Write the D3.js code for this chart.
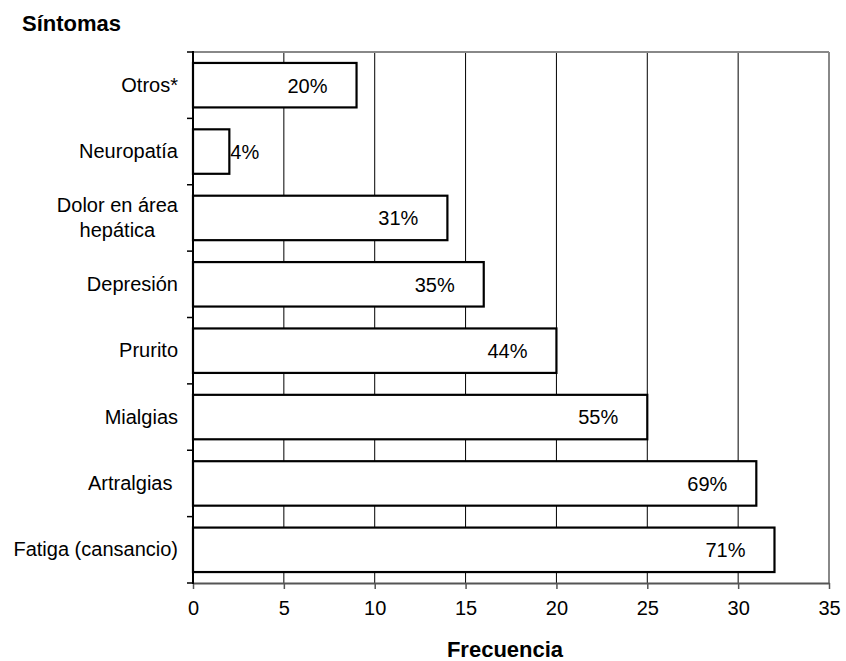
<!DOCTYPE html>
<html>
<head>
<meta charset="utf-8">
<script src="https://cdn.jsdelivr.net/npm/d3@7"></script>
<style>
  html, body { margin: 0; padding: 0; background: #fff; }
  svg { display: block; font-family: "Liberation Sans", Arial, sans-serif; }
  .cat { white-space: pre; }
</style>
</head>
<body>
<svg id="chart" width="846" height="661"></svg>
<script>
const categories = ["Otros*", "Neuropatía", "Dolor en área\nhepática", "Depresión", "Prurito", "Mialgias", "Artralgias ", "Fatiga (cansancio)"];
const frequencies = [9, 2, 14, 16, 20, 25, 31, 32];
const percentLabels = ["20%", "4%", "31%", "35%", "44%", "55%", "69%", "71%"];
const xTicks = [0, 5, 10, 15, 20, 25, 30, 35];
const yTitle = "Síntomas";
const xTitle = "Frecuencia";

const svg = d3.select("#chart");
const L = 193, R = 829, T = 52, B = 583;

const x = d3.scaleLinear().domain([0, 35]).range([L, R]);
const y = d3.scaleBand().domain(categories).range([T, B]).paddingInner(0.33).paddingOuter(0.165);

// vertical gridlines
svg.append("g").selectAll("line").data(xTicks.filter(d => d > 0 && d < 35)).join("line")
  .attr("x1", d => x(d)).attr("x2", d => x(d))
  .attr("y1", T).attr("y2", B)
  .attr("stroke", "#000").attr("stroke-width", 1);

// top and right border (gray)
svg.append("line").attr("x1", L).attr("x2", R).attr("y1", T).attr("y2", T)
  .attr("stroke", "#888").attr("stroke-width", 2);
svg.append("line").attr("x1", R).attr("x2", R).attr("y1", T).attr("y2", B)
  .attr("stroke", "#888").attr("stroke-width", 2);

// bars
const data = categories.map((c, i) => ({c, v: frequencies[i], p: percentLabels[i]}));
svg.append("g").selectAll("rect").data(data).join("rect")
  .attr("x", x(0)).attr("y", d => y(d.c))
  .attr("width", d => x(d.v) - x(0)).attr("height", y.bandwidth())
  .attr("fill", "#fff").attr("stroke", "#000").attr("stroke-width", 2.2);

// value labels
svg.append("g").selectAll("text").data(data).join("text")
  .attr("x", d => (x(d.v) - x(0) < 60) ? x(d.v) + 1 : x(d.v) - 29)
  .attr("y", d => y(d.c) + y.bandwidth() / 2)
  .attr("dy", "0.37em")
  .attr("text-anchor", d => (x(d.v) - x(0) < 60) ? "start" : "end")
  .attr("font-size", 20).attr("fill", "#000")
  .text(d => d.p);

// x axis
const xAxis = d3.axisBottom(x).tickValues(xTicks).tickSize(6).tickPadding(12).tickSizeOuter(0);
const gx = svg.append("g").attr("transform", `translate(0,${B})`).call(xAxis);
gx.select(".domain").attr("stroke", "#555").attr("stroke-width", 2);
gx.selectAll(".tick line").attr("stroke", "#555").attr("stroke-width", 1.5);
gx.selectAll(".tick text").attr("font-size", 20).attr("fill", "#000")
  .attr("font-family", "Liberation Sans, Arial, sans-serif");

// y axis: ticks at band boundaries
const bounds = d3.range(categories.length + 1).map(i => T + i * (B - T) / categories.length);
svg.append("line").attr("x1", L).attr("x2", L).attr("y1", T - 1).attr("y2", B + 1)
  .attr("stroke", "#000").attr("stroke-width", 2);
svg.append("g").selectAll("line").data(bounds).join("line")
  .attr("x1", L - 6).attr("x2", L).attr("y1", d => d).attr("y2", d => d)
  .attr("stroke", "#000").attr("stroke-width", 1.5);

// category labels
const lab = svg.append("g").selectAll("text").data(categories).join("text")
  .attr("class", "cat")
  .attr("font-size", 20).attr("fill", "#000")
  .attr("transform", d => {
    const lines = d.split("\n");
    return `translate(0,${y(d) + y.bandwidth() / 2 - (lines.length - 1) * 12.5})`;
  });
lab.each(function(d) {
  const lines = d.split("\n");
  const t = d3.select(this);
  if (lines.length === 1) {
    t.append("tspan").attr("x", 178).attr("y", 0).attr("dy", "0.33em").attr("text-anchor", "end").text(lines[0]);
  } else {
    const widths = lines.map(s => {
      const tmp = svg.append("text").attr("font-size", 20).text(s);
      const w = tmp.node().getComputedTextLength(); tmp.remove(); return w;
    });
    const maxW = d3.max(widths);
    const cx = 178 - maxW / 2;
    lines.forEach((s, i) => {
      t.append("tspan").attr("x", cx).attr("y", i * 25).attr("dy", "0.33em")
        .attr("text-anchor", "middle").text(s);
    });
  }
});

// titles
svg.append("text").attr("x", 22).attr("y", 31).attr("font-size", 22).attr("font-weight", "bold")
  .attr("fill", "#000").text(yTitle);
svg.append("text").attr("x", 505).attr("y", 657).attr("font-size", 22).attr("font-weight", "bold")
  .attr("text-anchor", "middle").attr("fill", "#000").text(xTitle);
</script>
</body>
</html>
